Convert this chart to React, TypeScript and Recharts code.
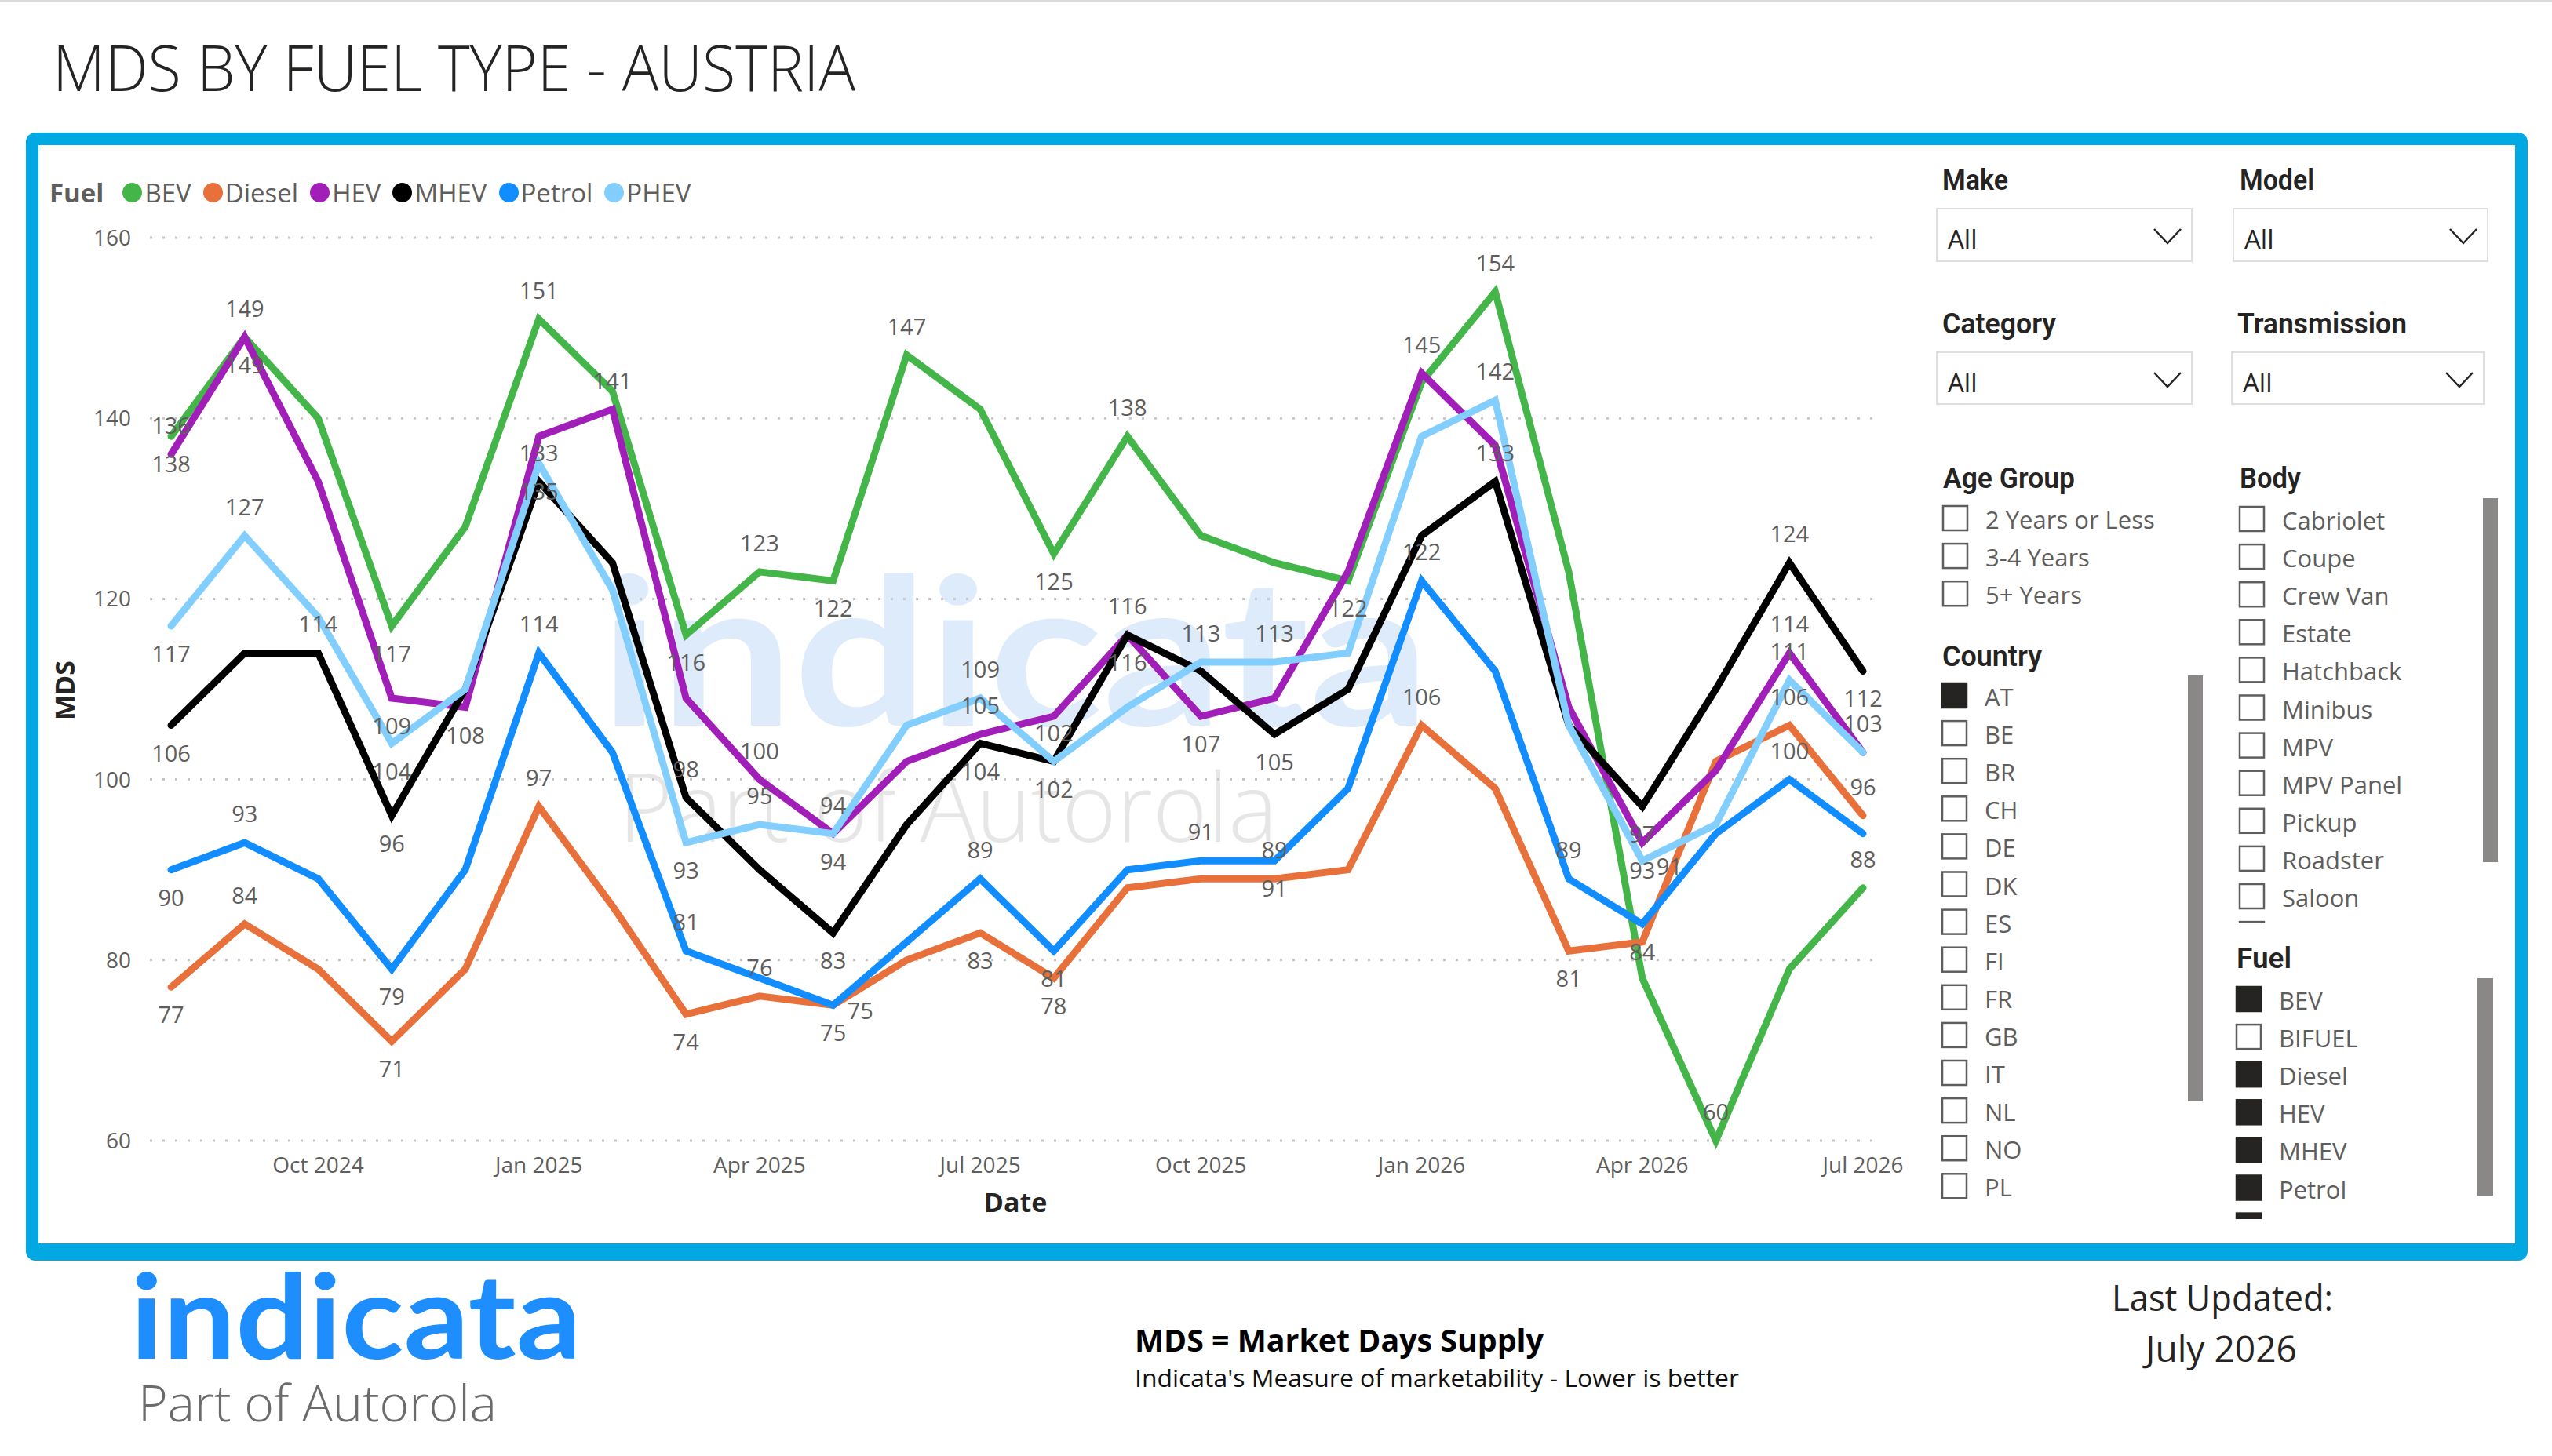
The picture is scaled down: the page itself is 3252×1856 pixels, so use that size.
import React from 'react';
import { LineChart, Line, XAxis, YAxis, CartesianGrid } from 'recharts';

const FONT = '"Segoe UI", "Open Sans", "Noto Sans", sans-serif';
const GREY = '#605E5C';
const DARK = '#252423';

const MONTHS = [
  'Aug 2024', 'Sep 2024', 'Oct 2024', 'Nov 2024', 'Dec 2024', 'Jan 2025',
  'Feb 2025', 'Mar 2025', 'Apr 2025', 'May 2025', 'Jun 2025', 'Jul 2025',
  'Aug 2025', 'Sep 2025', 'Oct 2025', 'Nov 2025', 'Dec 2025', 'Jan 2026',
  'Feb 2026', 'Mar 2026', 'Apr 2026', 'May 2026', 'Jun 2026', 'Jul 2026',
];
const X_TICKS = ['Oct 2024', 'Jan 2025', 'Apr 2025', 'Jul 2025', 'Oct 2025', 'Jan 2026', 'Apr 2026', 'Jul 2026'];
const Y_TICKS = [60, 80, 100, 120, 140, 160];

const BEV = [138, 149, 140, 117, 128, 151, 143, 116, 123, 122, 147, 141, 125, 138, 127, 124, 122, 144, 154, 123, 78, 60, 79, 88];
const DIESEL = [77, 84, 79, 71, 79, 97, 86, 74, 76, 75, 80, 83, 78, 88, 89, 89, 90, 106, 99, 81, 82, 102, 106, 96];
const HEV = [136, 149, 133, 109, 108, 138, 141, 109, 100, 94, 102, 105, 107, 116, 107, 109, 123, 145, 137, 108, 93, 101, 114, 103];
const MHEV = [106, 114, 114, 96, 110, 133, 124, 98, 90, 83, 95, 104, 102, 116, 112, 105, 110, 127, 133, 106, 97, 110, 124, 112];
const PETROL = [90, 93, 89, 79, 90, 114, 103, 81, 78, 75, 82, 89, 81, 90, 91, 91, 99, 122, 112, 89, 84, 94, 100, 94];
const PHEV = [117, 127, 118, 104, 110, 135, 121, 93, 95, 94, 106, 109, 102, 108, 113, 113, 114, 138, 142, 106, 91, 95, 111, 103];

const SERIES = [
  { key: 'BEV', color: '#44B649', values: BEV },
  { key: 'Diesel', color: '#E8703A', values: DIESEL },
  { key: 'HEV', color: '#A11EB8', values: HEV },
  { key: 'MHEV', color: '#000000', values: MHEV },
  { key: 'Petrol', color: '#118DFF', values: PETROL },
  { key: 'PHEV', color: '#82CFFF', values: PHEV },
];

// which points carry a data label, and on which side of the point
const LABEL_POS: Record<string, Record<number, string>> = {
  BEV: { 0: 'bottom', 1: 'top', 3: 'bottom', 5: 'top', 7: 'bottom', 8: 'top', 9: 'bottom', 10: 'top', 12: 'bottom', 13: 'top', 16: 'bottom', 18: 'top', 21: 'top', 23: 'top' },
  Diesel: { 0: 'bottom', 1: 'top', 3: 'bottom', 5: 'top', 7: 'bottom', 8: 'top', 9: 'right', 11: 'bottom', 12: 'bottom', 15: 'top', 17: 'top', 19: 'bottom', 22: 'top', 23: 'top' },
  HEV: { 0: 'top', 1: 'bottom', 3: 'bottom', 4: 'bottom', 6: 'top', 8: 'top', 9: 'top', 11: 'top', 13: 'bottom', 14: 'bottom', 17: 'top', 20: 'bottom', 22: 'top' },
  MHEV: { 0: 'bottom', 2: 'top', 3: 'bottom', 5: 'top', 7: 'top', 9: 'bottom', 11: 'bottom', 12: 'bottom', 13: 'top', 15: 'bottom', 18: 'top', 20: 'bottom', 22: 'top', 23: 'bottom' },
  Petrol: { 0: 'bottom', 1: 'top', 3: 'bottom', 5: 'top', 7: 'top', 9: 'bottom', 11: 'top', 12: 'bottom', 14: 'top', 15: 'bottom', 17: 'top', 19: 'top', 20: 'bottom', 22: 'top' },
  PHEV: { 0: 'bottom', 1: 'top', 3: 'bottom', 5: 'bottom', 7: 'bottom', 8: 'top', 9: 'bottom', 11: 'top', 12: 'top', 14: 'top', 15: 'top', 18: 'top', 20: 'right', 22: 'top', 23: 'top' },
};

const DATA = MONTHS.map((month, i) => {
  const row: Record<string, any> = { month };
  SERIES.forEach((s) => { row[s.key] = s.values[i]; });
  return row;
});

const AGE_GROUPS = ['2 Years or Less', '3-4 Years', '5+ Years'];
const COUNTRIES = ['AT', 'BE', 'BR', 'CH', 'DE', 'DK', 'ES', 'FI', 'FR', 'GB', 'IT', 'NL', 'NO', 'PL'];
const COUNTRY_SELECTED = ['AT'];
const BODIES = ['Cabriolet', 'Coupe', 'Crew Van', 'Estate', 'Hatchback', 'Minibus', 'MPV', 'MPV Panel', 'Pickup', 'Roadster', 'Saloon', 'SUV'];
const FUELS = ['BEV', 'BIFUEL', 'Diesel', 'HEV', 'MHEV', 'Petrol', 'PHEV'];
const FUEL_SELECTED = ['BEV', 'Diesel', 'HEV', 'MHEV', 'Petrol', 'PHEV'];

const makeLabel = (key: string) => (p: any) => {
  const k = `lbl-${key}-${p.index}`;
  const pos = LABEL_POS[key][p.index];
  if (!pos || p.cx == null || p.cy == null) return <g key={k} />;
  const v = p.value != null ? p.value : p.payload?.[key];
  let x = p.cx;
  let y = p.cy;
  let anchor: any = 'middle';
  if (pos === 'top') y = p.cy - 26;
  else if (pos === 'bottom') y = p.cy + 46;
  else { x = p.cx + 18; y = p.cy + 18; anchor = 'start'; }
  return (
    <text key={k} x={x} y={y} textAnchor={anchor} fontSize={29} fill={GREY} fontFamily={FONT}>
      {v}
    </text>
  );
};

const renderXTick = (props: any) => {
  const { x, y, payload } = props;
  if (!X_TICKS.includes(payload.value)) return <g />;
  return (
    <text x={x} y={y} dy={20} textAnchor="middle" fontSize={28} fill={GREY} fontFamily={FONT}>
      {payload.value}
    </text>
  );
};

const Dropdown = ({ x, y, w, h }: any) => (
  <g>
    <rect x={x} y={y} width={w} height={h} fill="#fff" stroke="#E1DFDD" strokeWidth={2} />
    <text x={x + 14} y={y + 51} fontSize={33} fill={DARK} fontFamily={FONT}>All</text>
    <polyline points={`${x + w - 48},${y + 26} ${x + w - 31},${y + 44} ${x + w - 14},${y + 26}`} fill="none" stroke={DARK} strokeWidth={2.5} />
  </g>
);

const CheckList = ({ x, y, items, selected, clipId, clipBottom }: any) => (
  <g clipPath={clipId ? `url(#${clipId})` : undefined}>
    {clipId && (
      <defs>
        <clipPath id={clipId}>
          <rect x={x - 5} y={y - 5} width={400} height={clipBottom - y + 5} />
        </clipPath>
      </defs>
    )}
    {items.map((it: string, i: number) => {
      const yy = y + i * 48.1;
      const on = selected.includes(it);
      return (
        <g key={it}>
          <rect x={x + 1} y={yy + 1} width={31} height={31} fill={on ? DARK : '#fff'} stroke={on ? DARK : GREY} strokeWidth={2.5} />
          <text x={x + 55} y={yy + 30} fontSize={31} fill={GREY} fontFamily={FONT}>{it}</text>
        </g>
      );
    })}
  </g>
);

const Header = ({ x, y, w, children }: any) => (
  <text x={x} y={y} fontSize={37} fontWeight={600} fill={DARK} fontFamily='"Roboto", "Open Sans", sans-serif' textLength={w} lengthAdjust="spacingAndGlyphs">
    {children}
  </text>
);

export default function App() {
  return (
    <div style={{ position: 'absolute', left: 0, top: 0, width: 3252, height: 1856, background: '#fff', overflow: 'hidden', fontFamily: FONT }}>
      <div style={{ position: 'absolute', left: 0, top: 0, width: 3252, height: 2, background: '#D9D9D9' }} />
      {/* frame */}
      <div style={{ position: 'absolute', left: 33, top: 169, width: 3188, height: 1438, boxSizing: 'border-box', border: '16px solid #02A8E1', borderBottomWidth: 22, borderRadius: 12, background: '#fff' }} />

      {/* watermark */}
      <svg width={3252} height={1856} style={{ position: 'absolute', left: 0, top: 0 }}>
        <text x={764} y={925} fontSize={262} fontWeight={700} fill="#DDEBFB" fontFamily='"Lato", "Open Sans", sans-serif' textLength={1058} lengthAdjust="spacingAndGlyphs">indicata</text>
        <text x={788} y={1073} fontSize={122} fontWeight={300} fill="#E6E6E6" fontFamily={FONT} textLength={840} lengthAdjust="spacingAndGlyphs">Part of Autorola</text>
      </svg>

      {/* chart */}
      <div style={{ position: 'absolute', left: 0, top: 0 }}>
        <LineChart width={2450} height={1560} data={DATA} margin={{ top: 303, right: 56, bottom: 46, left: 91 }}>
          <CartesianGrid vertical={false} stroke="#C8C6C4" strokeDasharray="3 13" strokeWidth={3} />
          <XAxis dataKey="month" interval={0} axisLine={false} tickLine={false} tickSize={6} tickMargin={15} height={60} padding={{ left: 27, right: 20 }} tick={renderXTick} />
          <YAxis domain={[60, 160]} ticks={Y_TICKS} width={100} axisLine={false} tickLine={false} tickMargin={18} tick={{ fontSize: 28, fill: GREY, fontFamily: FONT }} />
          {SERIES.map((s) => (
            <Line key={s.key} type="linear" dataKey={s.key} stroke={s.color} strokeWidth={9} strokeLinecap="round" dot={false} activeDot={false} isAnimationActive={false} />
          ))}
          {SERIES.map((s) => (
            <Line key={`${s.key}-labels`} type="linear" dataKey={s.key} stroke="none" legendType="none" dot={makeLabel(s.key)} activeDot={false} isAnimationActive={false} />
          ))}
        </LineChart>
      </div>

      {/* legend */}
      <div style={{ position: 'absolute', left: 63, top: 223, height: 44, display: 'flex', alignItems: 'center', fontSize: 33, color: GREY, whiteSpace: 'nowrap' }}>
        <span style={{ fontWeight: 700, marginRight: 24 }}>Fuel</span>
        {SERIES.map((s) => (
          <span key={s.key} style={{ display: 'flex', alignItems: 'center', marginRight: 15 }}>
            <span style={{ width: 25, height: 25, borderRadius: '50%', background: s.color, marginRight: 3, display: 'inline-block' }} />
            <span>{s.key}</span>
          </span>
        ))}
      </div>

      {/* overlay texts */}
      <svg width={3252} height={1856} style={{ position: 'absolute', left: 0, top: 0, pointerEvents: 'none' }}>
        <text x={67} y={116} fontSize={82} fontWeight={300} fill={DARK} fontFamily={FONT} textLength={1023} lengthAdjust="spacingAndGlyphs">MDS BY FUEL TYPE - AUSTRIA</text>

        <text x={0} y={0} transform="translate(95 880) rotate(-90)" textAnchor="middle" fontSize={34} fontWeight={700} fill={DARK} fontFamily={FONT}>MDS</text>
        <text x={1294} y={1545} textAnchor="middle" fontSize={34} fontWeight={700} fill={DARK} fontFamily={FONT}>Date</text>

        {/* slicers */}
        <Header x={2475} y={242} w={84}>Make</Header>
        <Header x={2854} y={242} w={95}>Model</Header>
        <Dropdown x={2468} y={266} w={325} h={67} />
        <Dropdown x={2846} y={266} w={324} h={67} />
        <Header x={2475} y={425} w={145}>Category</Header>
        <Header x={2851} y={425} w={216}>Transmission</Header>
        <Dropdown x={2468} y={449} w={325} h={66} />
        <Dropdown x={2844} y={449} w={321} h={66} />

        <Header x={2476} y={622} w={168}>Age Group</Header>
        <CheckList x={2475} y={644} items={AGE_GROUPS} selected={[]} />

        <Header x={2475} y={849} w={127}>Country</Header>
        <CheckList x={2474} y={870} items={COUNTRIES} selected={COUNTRY_SELECTED} clipId="clipCountry" clipBottom={1528} />
        <rect x={2788} y={861} width={19} height={543} fill="#8A8886" />

        <Header x={2854} y={622} w={78}>Body</Header>
        <CheckList x={2853} y={645} items={BODIES} selected={[]} clipId="clipBody" clipBottom={1177} />
        <rect x={3164} y={635} width={19} height={464} fill="#8A8886" />

        <Header x={2850} y={1234} w={70}>Fuel</Header>
        <CheckList x={2849} y={1257} items={FUELS} selected={FUEL_SELECTED} clipId="clipFuel" clipBottom={1554} />
        <rect x={3157} y={1247} width={20} height={277} fill="#8A8886" />

        {/* footer */}
        <text x={166} y={1732} fontSize={150} fontWeight={700} fill="#1E8EFF" fontFamily='"Lato", "Open Sans", sans-serif' textLength={575} lengthAdjust="spacingAndGlyphs">indicata</text>
        <text x={176} y={1812} fontSize={64} fontWeight={300} fill="#6B6B6B" fontFamily={FONT} textLength={457} lengthAdjust="spacingAndGlyphs">Part of Autorola</text>
        <text x={1446} y={1723} fontSize={40} fontWeight={700} fill="#000" fontFamily={FONT} textLength={521} lengthAdjust="spacingAndGlyphs">MDS = Market Days Supply</text>
        <text x={1446} y={1768} fontSize={31} fill="#111" fontFamily={FONT} textLength={770} lengthAdjust="spacingAndGlyphs">Indicata's Measure of marketability - Lower is better</text>
        <text x={2691} y={1671} fontSize={46} fill={DARK} fontFamily={FONT} textLength={282} lengthAdjust="spacingAndGlyphs">Last Updated:</text>
        <text x={2734} y={1736} fontSize={46} fill={DARK} fontFamily={FONT} textLength={193} lengthAdjust="spacingAndGlyphs">July 2026</text>
      </svg>
    </div>
  );
}
